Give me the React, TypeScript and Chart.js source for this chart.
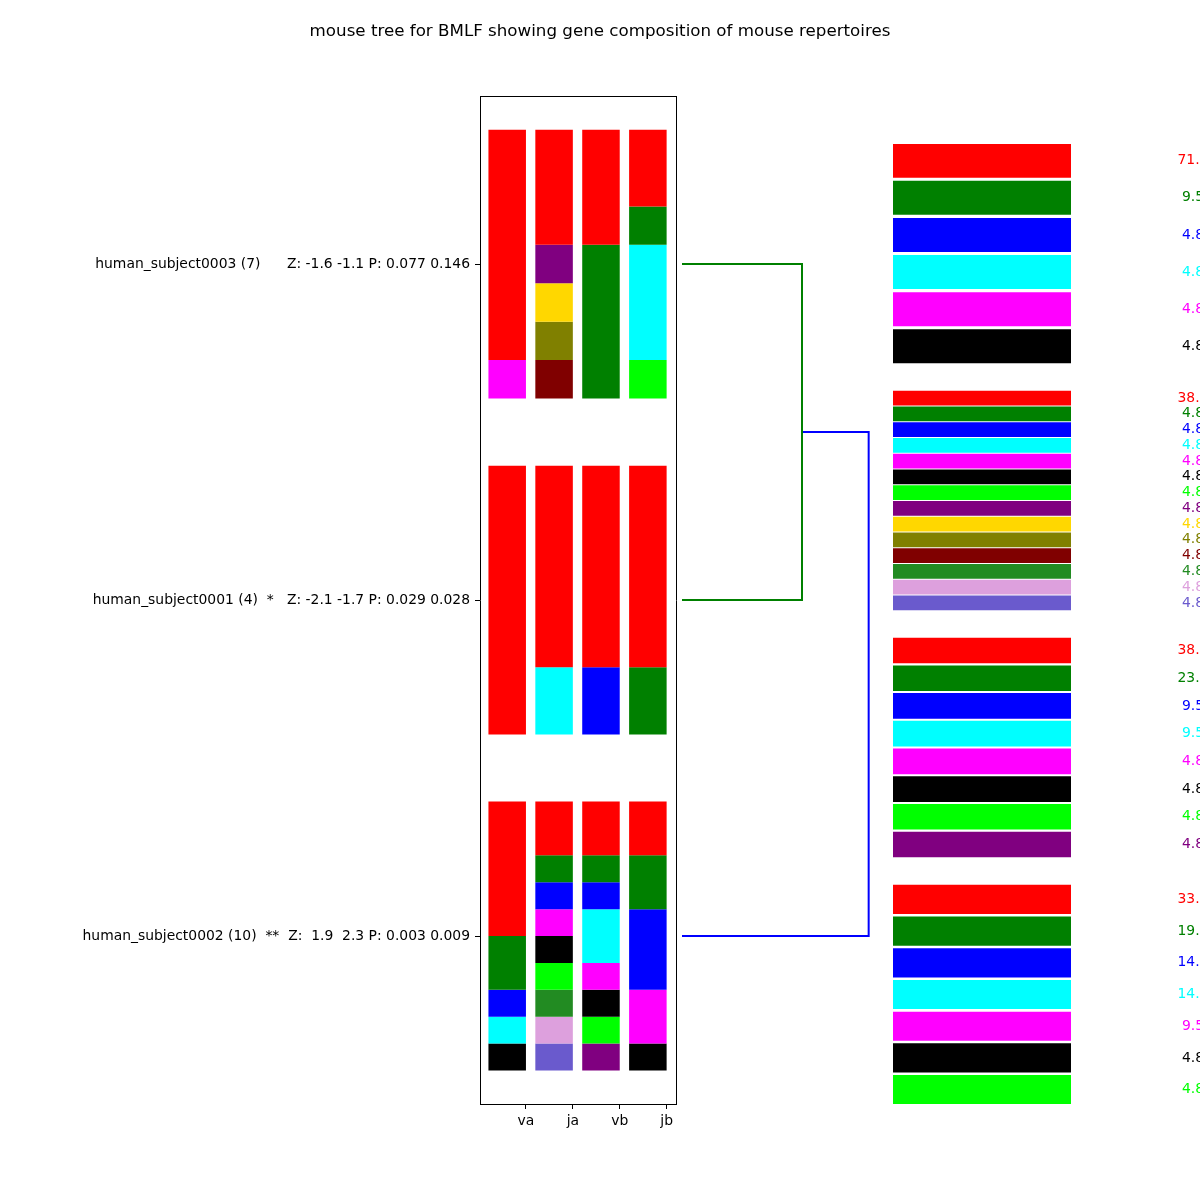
import React, { useEffect, useRef } from "react";
import { Chart, registerables } from "chart.js";

Chart.register(...registerables);

const FONT = "DejaVu Sans";

const TITLE = "mouse tree for BMLF showing gene composition of mouse repertoires";

const geneColumns = ["va", "ja", "vb", "jb"];

const subjectLabels = [
  "human_subject0003 (7)      Z: -1.6 -1.1 P: 0.077 0.146",
  "human_subject0001 (4)  *   Z: -2.1 -1.7 P: 0.029 0.028",
  "human_subject0002 (10)  **  Z:  1.9  2.3 P: 0.003 0.009",
];

// colour for gene rank 0..13
const palette = [
  "#ff0000", "#008000", "#0000ff", "#00ffff", "#ff00ff", "#000000", "#00ff00",
  "#800080", "#ffd700", "#808000", "#800000", "#228b22", "#dda0dd", "#6a5acd",
];

// per subject, per gene column: [gene rank, clone count], top to bottom
const subject0003Va = [[0, 6], [4, 1]];
const subject0003Ja = [[0, 3], [7, 1], [8, 1], [9, 1], [10, 1]];
const subject0003Vb = [[0, 3], [1, 4]];
const subject0003Jb = [[0, 2], [1, 1], [3, 3], [6, 1]];

const subject0001Va = [[0, 4]];
const subject0001Ja = [[0, 3], [3, 1]];
const subject0001Vb = [[0, 3], [2, 1]];
const subject0001Jb = [[0, 3], [1, 1]];

const subject0002Va = [[0, 5], [1, 2], [2, 1], [3, 1], [5, 1]];
const subject0002Ja = [[0, 2], [1, 1], [2, 1], [4, 1], [5, 1], [6, 1], [11, 1], [12, 1], [13, 1]];
const subject0002Vb = [[0, 2], [1, 1], [2, 1], [3, 2], [4, 1], [5, 1], [6, 1], [7, 1]];
const subject0002Jb = [[0, 2], [1, 2], [2, 3], [4, 2], [5, 1]];

const subjectSegments = [
  [subject0003Va, subject0003Ja, subject0003Vb, subject0003Jb],
  [subject0001Va, subject0001Ja, subject0001Vb, subject0001Jb],
  [subject0002Va, subject0002Ja, subject0002Vb, subject0002Jb],
];

// dendrogram: leaves at subject rows, merge heights
const dendroLeafY = [0, 1, 2];
const mergeHeights = [1.8, 2.8];

// overall gene composition (percent) per column, by rank
const vaPercents = [71.4, 9.5, 4.8, 4.8, 4.8, 4.8];
const jaPercents = [38.1, 4.8, 4.8, 4.8, 4.8, 4.8, 4.8, 4.8, 4.8, 4.8, 4.8, 4.8, 4.8, 4.8];
const vbPercents = [38.1, 23.8, 9.5, 9.5, 4.8, 4.8, 4.8, 4.8];
const jbPercents = [33.3, 19.0, 14.3, 14.3, 9.5, 4.8, 4.8];
const columnPercents = [vaPercents, jaPercents, vbPercents, jbPercents];

function buildMainDatasets() {
  const ds: any[] = [];
  subjectSegments.forEach((cols, g) => {
    cols.forEach((segs, c) => {
      const total = segs.reduce((s, [, n]) => s + n, 0);
      let acc = 0;
      segs.forEach(([rank, n]) => {
        const top = g - 0.4 + (0.8 * acc) / total;
        const bottom = g - 0.4 + (0.8 * (acc + n)) / total;
        ds.push({
          data: [{ x: c - 0.4, y: [top, bottom] }],
          backgroundColor: palette[rank],
          borderWidth: 0,
          grouped: false,
          barPercentage: 0.8,
          categoryPercentage: 1,
        });
        acc += n;
      });
    });
  });
  return ds;
}

const GROUP_H = 0.8866;

function buildLegendDatasets() {
  const ds: any[] = [];
  columnPercents.forEach((pcts, g) => {
    const n = pcts.length;
    pcts.forEach((p, i) => {
      const top = g + (GROUP_H * i) / (n - 0.1);
      const bottom = g + (GROUP_H * (i + 0.9)) / (n - 0.1);
      ds.push({
        label: p.toFixed(1),
        data: [{ x: 0.5, y: [top, bottom] }],
        backgroundColor: palette[i],
        borderWidth: 0,
        grouped: false,
        barPercentage: 1,
        categoryPercentage: 1,
      });
    });
  });
  return ds;
}

const percentLabelPlugin = {
  id: "percentLabels",
  afterDatasetsDraw(chart: any, _args: any, opts: any) {
    const ctx = chart.ctx;
    const x = chart.scales.x.getPixelForValue(opts.labelX);
    ctx.save();
    ctx.font = `${opts.fontSize}px "${FONT}"`;
    ctx.textAlign = "center";
    ctx.textBaseline = "middle";
    chart.data.datasets.forEach((d: any, i: number) => {
      const el = chart.getDatasetMeta(i).data[0];
      if (!el) return;
      ctx.fillStyle = d.backgroundColor;
      ctx.fillText(d.label, x, (el.y + el.base) / 2);
    });
    ctx.restore();
  },
};

const tickFont = { family: FONT, size: 13.9 };

export default function App() {
  const mainRef = useRef<HTMLCanvasElement>(null);
  const dendroRef = useRef<HTMLCanvasElement>(null);
  const legendRef = useRef<HTMLCanvasElement>(null);

  useEffect(() => {
    const main = new Chart(mainRef.current as HTMLCanvasElement, {
      type: "bar",
      data: { datasets: buildMainDatasets() },
      options: {
        animation: false,
        responsive: false,
        layout: { padding: 0 },
        plugins: {
          legend: { display: false },
          tooltip: { enabled: false },
          title: {
            display: true,
            text: TITLE,
            color: "#000",
            font: { family: FONT, size: 16.7, weight: "normal" },
            padding: { top: 22, bottom: 54 },
          },
        },
        scales: {
          x: {
            type: "linear",
            position: "bottom",
            min: -0.98,
            max: 3.2,
            offset: false,
            afterBuildTicks: (s: any) => {
              s.ticks = geneColumns.map((_, i) => ({ value: i }));
            },
            afterFit: (s: any) => {
              s.height = 96;
            },
            ticks: {
              callback: (v: any) => geneColumns[v],
              color: "#000",
              font: tickFont,
              padding: 4,
              maxRotation: 0,
              autoSkip: false,
            },
            grid: { offset: false, drawOnChartArea: false, tickLength: 5, tickColor: "#000" },
            border: { color: "#000", width: 1 },
          },
          xTop: {
            type: "linear",
            position: "top",
            afterFit: (s: any) => {
              s.height = 0;
            },
            ticks: { display: false },
            grid: { drawOnChartArea: false, drawTicks: false },
            border: { color: "#000", width: 1 },
          },
          y: {
            type: "linear",
            position: "left",
            reverse: true,
            min: -0.5,
            max: 2.5,
            afterBuildTicks: (s: any) => {
              s.ticks = subjectLabels.map((_, i) => ({ value: i }));
            },
            afterFit: (s: any) => {
              s.width = 480;
            },
            ticks: {
              callback: (v: any) => subjectLabels[v],
              color: "#000",
              font: tickFont,
              padding: 5,
              autoSkip: false,
            },
            grid: { drawOnChartArea: false, tickLength: 5, tickColor: "#000" },
            border: { color: "#000", width: 1 },
          },
          yRight: {
            type: "linear",
            position: "right",
            afterFit: (s: any) => {
              s.width = 524;
            },
            ticks: { display: false },
            grid: { drawOnChartArea: false, drawTicks: false },
            border: { color: "#000", width: 1 },
          },
        },
      } as any,
    });

    const [leaf0, leaf1, leaf2] = dendroLeafY;
    const clusterY = (leaf0 + leaf1) / 2;
    const dendro = new Chart(dendroRef.current as HTMLCanvasElement, {
      type: "scatter",
      data: {
        datasets: [
          {
            data: [
              { x: 0, y: leaf0 },
              { x: mergeHeights[0], y: leaf0 },
              { x: mergeHeights[0], y: leaf1 },
              { x: 0, y: leaf1 },
            ],
            showLine: true,
            borderColor: "#008000",
            borderWidth: 2,
            pointRadius: 0,
            fill: false,
            clip: false,
          },
          {
            data: [
              { x: mergeHeights[0], y: clusterY },
              { x: mergeHeights[1], y: clusterY },
              { x: mergeHeights[1], y: leaf2 },
              { x: 0, y: leaf2 },
            ],
            showLine: true,
            borderColor: "#0000ff",
            borderWidth: 2,
            pointRadius: 0,
            fill: false,
            clip: false,
          },
        ],
      },
      options: {
        animation: false,
        responsive: false,
        layout: { padding: { left: 682, right: 314, top: 96, bottom: 96 } },
        plugins: { legend: { display: false }, tooltip: { enabled: false } },
        scales: {
          x: { type: "linear", min: 0, max: 3.06, display: false },
          y: { type: "linear", min: -0.5, max: 2.5, reverse: true, display: false },
        },
      } as any,
    });

    const legend = new Chart(legendRef.current as HTMLCanvasElement, {
      type: "bar",
      data: { datasets: buildLegendDatasets() },
      plugins: [percentLabelPlugin as any],
      options: {
        animation: false,
        responsive: false,
        layout: { padding: { left: 893, right: 129, top: 144, bottom: 96 } },
        plugins: {
          legend: { display: false },
          tooltip: { enabled: false },
          percentLabels: { labelX: 1.685, fontSize: 13.9 },
        },
        scales: {
          x: {
            type: "linear",
            min: 0,
            max: 1,
            display: false,
            offset: false,
            afterBuildTicks: (s: any) => {
              s.ticks = [{ value: 0 }, { value: 1 }];
            },
          },
          y: { type: "linear", min: 0, max: 3 + GROUP_H, reverse: true, display: false },
        },
      } as any,
    });

    return () => {
      main.destroy();
      dendro.destroy();
      legend.destroy();
    };
  }, []);

  const canvasStyle: React.CSSProperties = { position: "absolute", left: 0, top: 0 };
  return (
    <div style={{ position: "absolute", left: 0, top: 0, width: 1200, height: 1200, background: "#fff" }}>
      <canvas ref={mainRef} width={1200} height={1200} style={canvasStyle} />
      <canvas ref={dendroRef} width={1200} height={1200} style={canvasStyle} />
      <canvas ref={legendRef} width={1200} height={1200} style={canvasStyle} />
    </div>
  );
}
